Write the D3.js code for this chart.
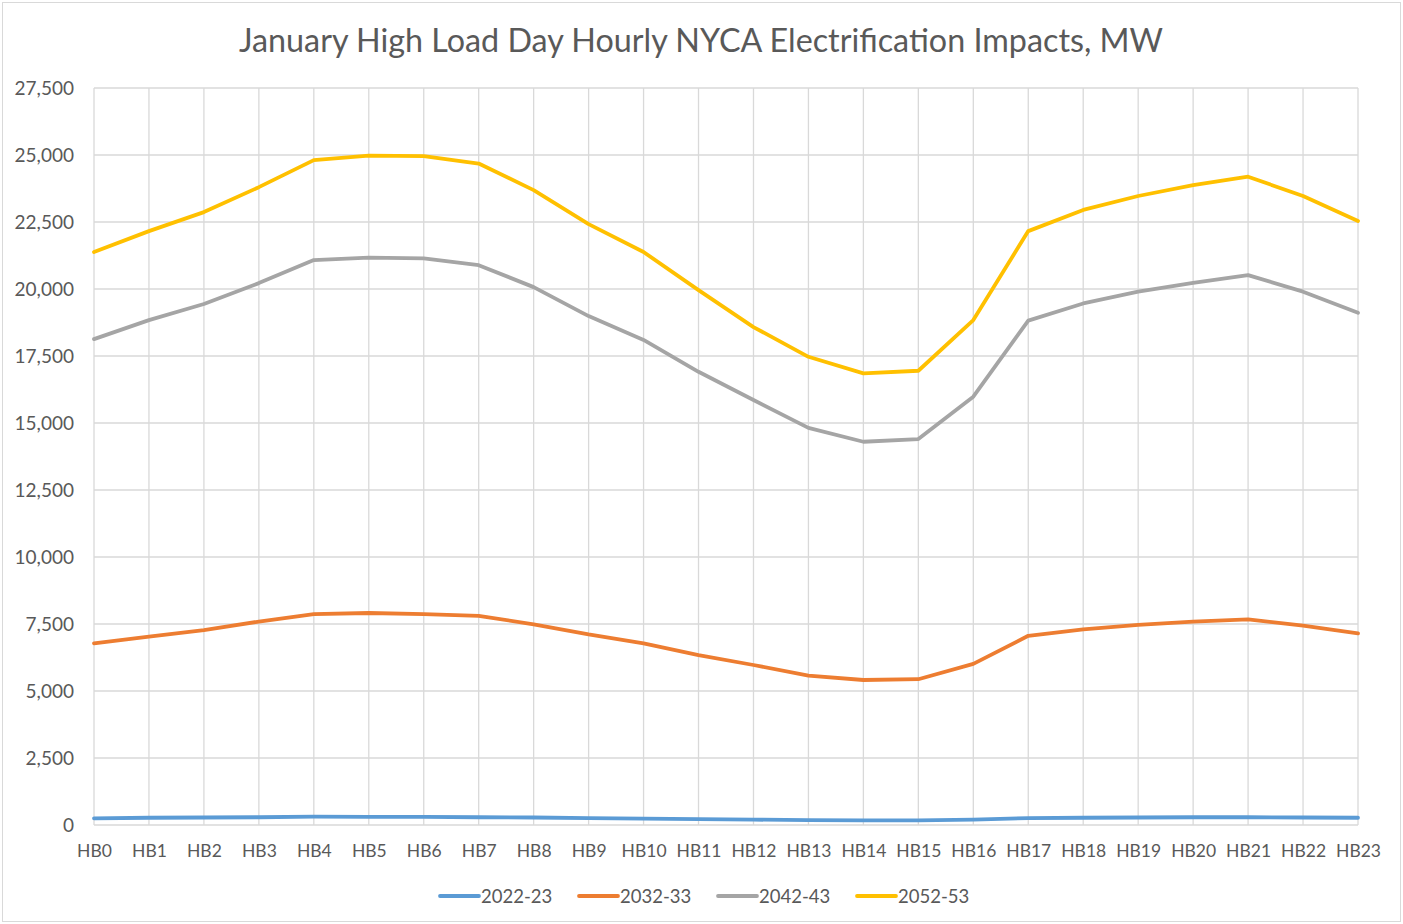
<!DOCTYPE html>
<html>
<head>
<meta charset="utf-8">
<script src="https://cdn.jsdelivr.net/npm/d3@7"></script>
<style>
  body { margin: 0; background: #fff; }
  svg { display: block; font-family: Lato, "Open Sans", sans-serif; }
</style>
</head>
<body>
<svg id="chart"></svg>
<script>
const hours = d3.range(24).map(i => 'HB' + i);
const yTicks = d3.range(0, 27501, 2500);

const s2022 = [250, 270, 280, 290, 310, 300, 300, 290, 280, 260, 240, 220, 200, 180, 170, 175, 200, 260, 270, 280, 290, 290, 280, 270];
const s2032 = [6780, 7030, 7275, 7590, 7870, 7910, 7870, 7800, 7490, 7110, 6780, 6340, 5970, 5570, 5410, 5440, 6010, 7060, 7300, 7470, 7590, 7670, 7440, 7150];
const s2042 = [18130, 18840, 19440, 20220, 21080, 21170, 21140, 20890, 20070, 18990, 18100, 16910, 15860, 14820, 14300, 14400, 15980, 18820, 19460, 19900, 20230, 20520, 19900, 19110];
const s2052 = [21380, 22160, 22870, 23800, 24810, 24980, 24960, 24680, 23690, 22420, 21380, 19960, 18580, 17470, 16850, 16950, 18840, 22160, 22950, 23470, 23880, 24190, 23470, 22540];

const seriesNames = ['2022-23', '2032-33', '2042-43', '2052-53'];
const seriesColors = ['#5b9bd5', '#ed7d31', '#a5a5a5', '#ffc000'];
const seriesValues = [s2022, s2032, s2042, s2052];

const width = 1403, height = 924;
const margin = {top: 88, right: 45, bottom: 99, left: 94};

const svg = d3.select('#chart')
    .attr('width', width)
    .attr('height', height);

// outer frame
svg.append('rect')
    .attr('x', 2.5).attr('y', 2.5)
    .attr('width', width - 5).attr('height', height - 5)
    .attr('fill', '#fff')
    .attr('stroke', '#d9d9d9');

const x = d3.scalePoint()
    .domain(hours)
    .range([margin.left, width - margin.right]);

const y = d3.scaleLinear()
    .domain([0, 27500])
    .range([height - margin.bottom, margin.top]);

// horizontal grid
svg.append('g')
    .selectAll('line')
    .data(yTicks)
    .join('line')
    .attr('x1', x.range()[0]).attr('x2', x.range()[1])
    .attr('y1', d => y(d)).attr('y2', d => y(d))
    .attr('stroke', '#d9d9d9')
    .attr('stroke-width', 1.3);

// vertical grid
svg.append('g')
    .selectAll('line')
    .data(hours)
    .join('line')
    .attr('x1', d => x(d)).attr('x2', d => x(d))
    .attr('y1', y(0)).attr('y2', y(27500))
    .attr('stroke', '#d9d9d9')
    .attr('stroke-width', 1.3);

// y axis labels
const yAxis = svg.append('g')
    .attr('transform', `translate(${margin.left - 20},0)`)
    .call(d3.axisLeft(y).tickValues(yTicks).tickFormat(d3.format(',')).tickSize(0).tickPadding(0));
yAxis.select('.domain').remove();
yAxis.selectAll('text')
    .attr('fill', '#595959')
    .attr('font-size', '19px')
    .attr('font-family', 'Lato, "Open Sans", sans-serif');

// x axis labels
const xAxis = svg.append('g')
    .attr('transform', `translate(0,${y(0)})`)
    .call(d3.axisBottom(x).tickSize(0).tickPadding(20));
xAxis.select('.domain').remove();
xAxis.selectAll('text')
    .attr('fill', '#595959')
    .attr('font-size', '17.5px')
    .attr('font-family', 'Lato, "Open Sans", sans-serif');

// lines
const line = d3.line()
    .x((d, i) => x(hours[i]))
    .y(d => y(d));

svg.append('g')
    .selectAll('path')
    .data(seriesValues)
    .join('path')
    .attr('d', line)
    .attr('fill', 'none')
    .attr('stroke', (d, i) => seriesColors[i])
    .attr('stroke-width', 3.8)
    .attr('stroke-linejoin', 'round')
    .attr('stroke-linecap', 'round');

// title
svg.append('text')
    .attr('x', 701)
    .attr('y', 52)
    .attr('text-anchor', 'middle')
    .attr('fill', '#595959')
    .attr('font-size', '32.3px')
    .text('January High Load Day Hourly NYCA Electrification Impacts, MW');

// legend
const legendX = [438, 577, 716, 855];
const legend = svg.append('g')
    .selectAll('g')
    .data(seriesNames)
    .join('g')
    .attr('transform', (d, i) => `translate(${legendX[i]},896)`);

legend.append('line')
    .attr('x1', 2).attr('x2', 41)
    .attr('y1', 0).attr('y2', 0)
    .attr('stroke', (d, i) => seriesColors[i])
    .attr('stroke-width', 3.8)
    .attr('stroke-linecap', 'round');

legend.append('text')
    .attr('x', 43)
    .attr('y', 6.5)
    .attr('fill', '#595959')
    .attr('font-size', '18.5px')
    .text(d => d);
</script>
</body>
</html>
